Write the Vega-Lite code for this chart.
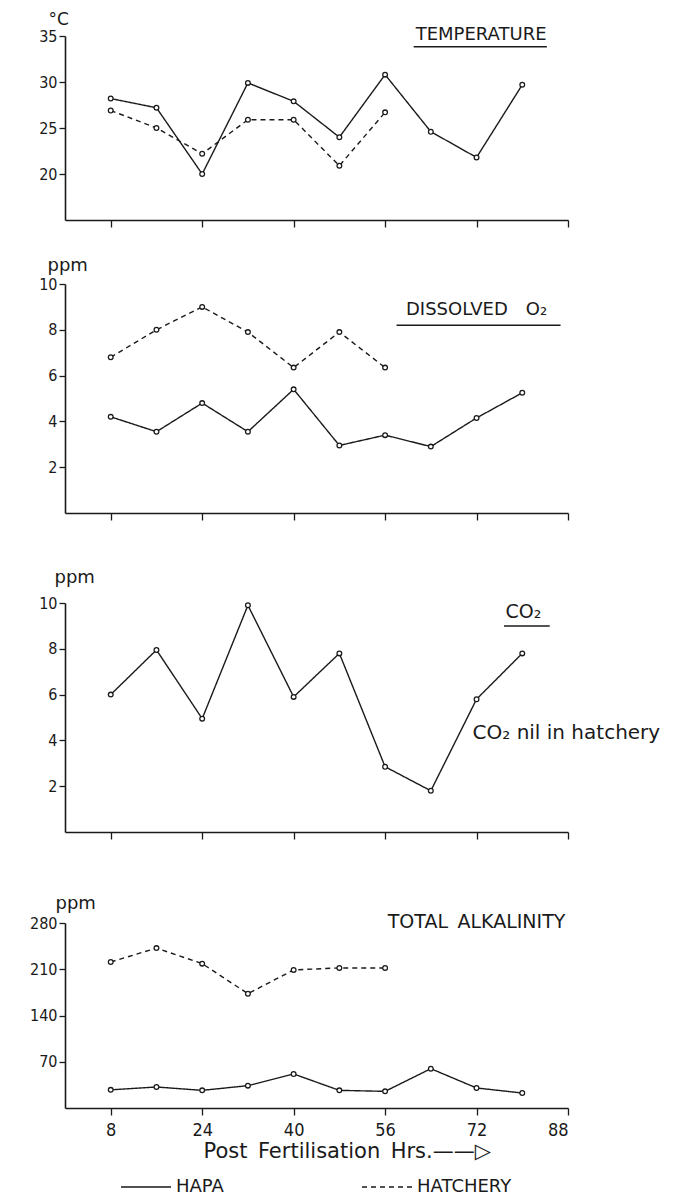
{
  "$schema": "https://vega.github.io/schema/vega-lite/v6.json",
  "background": "white",
  "padding": {"left": 25, "top": 10, "right": 2, "bottom": 2},
  "spacing": 19,
  "config": {
    "view": {"stroke": null},
    "font": "DejaVu Sans",
    "axis": {
      "grid": false,
      "domainColor": "#1a1a1a",
      "domainWidth": 1.6,
      "tickColor": "#1a1a1a",
      "tickWidth": 1.3,
      "labelColor": "#1a1a1a",
      "titleColor": "#1a1a1a",
      "labelFont": "DejaVu Sans Condensed, DejaVu Sans",
      "titleFont": "DejaVu Sans",
      "titleFontWeight": "normal"
    },
    "axisY": {
      "tickSize": 6,
      "labelPadding": 2,
      "labelFontSize": 16,
      "titleAngle": 0,
      "titleAlign": "left",
      "titleBaseline": "middle",
      "titleFontSize": 18,
      "minExtent": 40
    },
    "axisX": {"tickSize": 7},
    "legend": {
      "orient": "none", "legendX": 55, "legendY": 1125, "direction": "horizontal",
      "symbolType": "stroke", "symbolSize": 2500,
      "symbolStrokeWidth": 1.4, "symbolStrokeColor": "#1a1a1a",
      "labelFontSize": 18, "labelFont": "DejaVu Sans",
      "labelColor": "#1a1a1a", "labelOffset": 4, "columnPadding": 135
    }
  },
  "datasets": {
    "obs": [
      {"panel": "temp", "series": "HAPA", "hrs": 8, "value": 28.2},
      {"panel": "temp", "series": "HAPA", "hrs": 16, "value": 27.2},
      {"panel": "temp", "series": "HAPA", "hrs": 24, "value": 20.0},
      {"panel": "temp", "series": "HAPA", "hrs": 32, "value": 29.9},
      {"panel": "temp", "series": "HAPA", "hrs": 40, "value": 27.9},
      {"panel": "temp", "series": "HAPA", "hrs": 48, "value": 24.0},
      {"panel": "temp", "series": "HAPA", "hrs": 56, "value": 30.8},
      {"panel": "temp", "series": "HAPA", "hrs": 64, "value": 24.6},
      {"panel": "temp", "series": "HAPA", "hrs": 72, "value": 21.8},
      {"panel": "temp", "series": "HAPA", "hrs": 80, "value": 29.7},
      {"panel": "temp", "series": "HATCHERY", "hrs": 8, "value": 26.9},
      {"panel": "temp", "series": "HATCHERY", "hrs": 16, "value": 25.0},
      {"panel": "temp", "series": "HATCHERY", "hrs": 24, "value": 22.2},
      {"panel": "temp", "series": "HATCHERY", "hrs": 32, "value": 25.9},
      {"panel": "temp", "series": "HATCHERY", "hrs": 40, "value": 25.9},
      {"panel": "temp", "series": "HATCHERY", "hrs": 48, "value": 20.9},
      {"panel": "temp", "series": "HATCHERY", "hrs": 56, "value": 26.7},
      {"panel": "do", "series": "HAPA", "hrs": 8, "value": 4.2},
      {"panel": "do", "series": "HAPA", "hrs": 16, "value": 3.55},
      {"panel": "do", "series": "HAPA", "hrs": 24, "value": 4.8},
      {"panel": "do", "series": "HAPA", "hrs": 32, "value": 3.55},
      {"panel": "do", "series": "HAPA", "hrs": 40, "value": 5.4},
      {"panel": "do", "series": "HAPA", "hrs": 48, "value": 2.95},
      {"panel": "do", "series": "HAPA", "hrs": 56, "value": 3.4},
      {"panel": "do", "series": "HAPA", "hrs": 64, "value": 2.9},
      {"panel": "do", "series": "HAPA", "hrs": 72, "value": 4.15},
      {"panel": "do", "series": "HAPA", "hrs": 80, "value": 5.25},
      {"panel": "do", "series": "HATCHERY", "hrs": 8, "value": 6.8},
      {"panel": "do", "series": "HATCHERY", "hrs": 16, "value": 8.0},
      {"panel": "do", "series": "HATCHERY", "hrs": 24, "value": 9.0},
      {"panel": "do", "series": "HATCHERY", "hrs": 32, "value": 7.9},
      {"panel": "do", "series": "HATCHERY", "hrs": 40, "value": 6.35},
      {"panel": "do", "series": "HATCHERY", "hrs": 48, "value": 7.9},
      {"panel": "do", "series": "HATCHERY", "hrs": 56, "value": 6.35},
      {"panel": "co2", "series": "HAPA", "hrs": 8, "value": 6.0},
      {"panel": "co2", "series": "HAPA", "hrs": 16, "value": 7.95},
      {"panel": "co2", "series": "HAPA", "hrs": 24, "value": 4.95},
      {"panel": "co2", "series": "HAPA", "hrs": 32, "value": 9.9},
      {"panel": "co2", "series": "HAPA", "hrs": 40, "value": 5.9},
      {"panel": "co2", "series": "HAPA", "hrs": 48, "value": 7.8},
      {"panel": "co2", "series": "HAPA", "hrs": 56, "value": 2.85},
      {"panel": "co2", "series": "HAPA", "hrs": 64, "value": 1.8},
      {"panel": "co2", "series": "HAPA", "hrs": 72, "value": 5.8},
      {"panel": "co2", "series": "HAPA", "hrs": 80, "value": 7.8},
      {"panel": "alk", "series": "HAPA", "hrs": 8, "value": 27.5},
      {"panel": "alk", "series": "HAPA", "hrs": 16, "value": 31.8},
      {"panel": "alk", "series": "HAPA", "hrs": 24, "value": 26.7},
      {"panel": "alk", "series": "HAPA", "hrs": 32, "value": 33.8},
      {"panel": "alk", "series": "HAPA", "hrs": 40, "value": 51.5},
      {"panel": "alk", "series": "HAPA", "hrs": 48, "value": 26.7},
      {"panel": "alk", "series": "HAPA", "hrs": 56, "value": 25.2},
      {"panel": "alk", "series": "HAPA", "hrs": 64, "value": 59.5},
      {"panel": "alk", "series": "HAPA", "hrs": 72, "value": 30.3},
      {"panel": "alk", "series": "HAPA", "hrs": 80, "value": 22.7},
      {"panel": "alk", "series": "HATCHERY", "hrs": 8, "value": 221},
      {"panel": "alk", "series": "HATCHERY", "hrs": 16, "value": 242},
      {"panel": "alk", "series": "HATCHERY", "hrs": 24, "value": 218.5},
      {"panel": "alk", "series": "HATCHERY", "hrs": 32, "value": 173},
      {"panel": "alk", "series": "HATCHERY", "hrs": 40, "value": 209},
      {"panel": "alk", "series": "HATCHERY", "hrs": 48, "value": 212},
      {"panel": "alk", "series": "HATCHERY", "hrs": 56, "value": 212}
    ]
  },
  "vconcat": [
    {
      "width": 503,
      "height": 184,
      "layer": [
        {
          "data": {"name": "obs"},
          "transform": [{"filter": "datum.panel === 'temp'"}],
          "mark": {"type": "line", "color": "#1a1a1a", "strokeWidth": 1.4},
          "encoding": {
            "x": {"field": "hrs", "type": "quantitative", "scale": {"domain": [0, 88], "nice": false},
                  "axis": {"values": [8, 24, 40, 56, 72, 88], "labels": false, "title": null, "minExtent": 17}},
            "y": {"field": "value", "type": "quantitative", "scale": {"domain": [15, 35], "nice": false, "zero": false},
                  "axis": {"values": [20, 25, 30, 35], "title": "°C", "titleX": -17, "titleY": -17, "titleFontSize": 17}},
            "strokeDash": {"field": "series", "type": "nominal", "title": null,
                           "scale": {"domain": ["HAPA", "HATCHERY"], "range": [[1, 0], [5, 4]]}}
          }
        },
        {
          "data": {"name": "obs"},
          "transform": [{"filter": "datum.panel === 'temp'"}],
          "mark": {"type": "point", "shape": "circle", "filled": true, "fill": "white", "stroke": "#1a1a1a", "strokeWidth": 1.3, "size": 22, "opacity": 1},
          "encoding": {
            "x": {"field": "hrs", "type": "quantitative"},
            "y": {"field": "value", "type": "quantitative"}
          }
        },
        {
          "data": {"values": [{}]},
          "mark": {"type": "text", "fontSize": 18, "align": "center", "baseline": "middle", "color": "#1a1a1a", "font": "DejaVu Sans"},
          "encoding": {
            "x": {"datum": 72.8, "type": "quantitative"},
            "y": {"datum": 35.1, "type": "quantitative"},
            "text": {"value": "TEMPERATURE"}
          }
        },
        {
          "data": {"values": [{}]},
          "mark": {"type": "rule", "color": "#1a1a1a", "strokeWidth": 1.5},
          "encoding": {
            "x": {"datum": 61, "type": "quantitative"},
            "x2": {"datum": 84.3},
            "y": {"datum": 33.84, "type": "quantitative"}
          }
        }
      ]
    },
    {
      "width": 503,
      "height": 229,
      "layer": [
        {
          "data": {"name": "obs"},
          "transform": [{"filter": "datum.panel === 'do'"}],
          "mark": {"type": "line", "color": "#1a1a1a", "strokeWidth": 1.4},
          "encoding": {
            "x": {"field": "hrs", "type": "quantitative", "scale": {"domain": [0, 88], "nice": false},
                  "axis": {"values": [8, 24, 40, 56, 72, 88], "labels": false, "title": null, "minExtent": 36}},
            "y": {"field": "value", "type": "quantitative", "scale": {"domain": [0, 10], "nice": false},
                  "axis": {"values": [2, 4, 6, 8, 10], "title": "ppm", "titleX": -18, "titleY": -19}},
            "strokeDash": {"field": "series", "type": "nominal", "title": null,
                           "scale": {"domain": ["HAPA", "HATCHERY"], "range": [[1, 0], [5, 4]]}}
          }
        },
        {
          "data": {"name": "obs"},
          "transform": [{"filter": "datum.panel === 'do'"}],
          "mark": {"type": "point", "shape": "circle", "filled": true, "fill": "white", "stroke": "#1a1a1a", "strokeWidth": 1.3, "size": 22, "opacity": 1},
          "encoding": {
            "x": {"field": "hrs", "type": "quantitative"},
            "y": {"field": "value", "type": "quantitative"}
          }
        },
        {
          "data": {"values": [{}]},
          "mark": {"type": "text", "fontSize": 18, "align": "center", "baseline": "middle", "color": "#1a1a1a", "font": "DejaVu Sans"},
          "encoding": {
            "x": {"datum": 72, "type": "quantitative"},
            "y": {"datum": 8.86, "type": "quantitative"},
            "text": {"value": "DISSOLVED\u2002\u2002O₂"}
          }
        },
        {
          "data": {"values": [{}]},
          "mark": {"type": "rule", "color": "#1a1a1a", "strokeWidth": 1.5},
          "encoding": {
            "x": {"datum": 58, "type": "quantitative"},
            "x2": {"datum": 86.7},
            "y": {"datum": 8.2, "type": "quantitative"}
          }
        }
      ]
    },
    {
      "width": 503,
      "height": 229,
      "layer": [
        {
          "data": {"name": "obs"},
          "transform": [{"filter": "datum.panel === 'co2'"}],
          "mark": {"type": "line", "color": "#1a1a1a", "strokeWidth": 1.4},
          "encoding": {
            "x": {"field": "hrs", "type": "quantitative", "scale": {"domain": [0, 88], "nice": false},
                  "axis": {"values": [8, 24, 40, 56, 72, 88], "labels": false, "title": null, "minExtent": 43}},
            "y": {"field": "value", "type": "quantitative", "scale": {"domain": [0, 10], "nice": false},
                  "axis": {"values": [2, 4, 6, 8, 10], "title": "ppm", "titleX": -11, "titleY": -26}},
            "strokeDash": {"field": "series", "type": "nominal", "title": null,
                           "scale": {"domain": ["HAPA", "HATCHERY"], "range": [[1, 0], [5, 4]]}}
          }
        },
        {
          "data": {"name": "obs"},
          "transform": [{"filter": "datum.panel === 'co2'"}],
          "mark": {"type": "point", "shape": "circle", "filled": true, "fill": "white", "stroke": "#1a1a1a", "strokeWidth": 1.3, "size": 22, "opacity": 1},
          "encoding": {
            "x": {"field": "hrs", "type": "quantitative"},
            "y": {"field": "value", "type": "quantitative"}
          }
        },
        {
          "data": {"values": [{}]},
          "mark": {"type": "text", "fontSize": 19, "align": "center", "baseline": "middle", "color": "#1a1a1a", "font": "DejaVu Sans"},
          "encoding": {
            "x": {"datum": 80.2, "type": "quantitative"},
            "y": {"datum": 9.62, "type": "quantitative"},
            "text": {"value": "CO₂"}
          }
        },
        {
          "data": {"values": [{}]},
          "mark": {"type": "rule", "color": "#1a1a1a", "strokeWidth": 1.5},
          "encoding": {
            "x": {"datum": 76.8, "type": "quantitative"},
            "x2": {"datum": 84.8},
            "y": {"datum": 9.0, "type": "quantitative"}
          }
        },
        {
          "data": {"values": [{}]},
          "mark": {"type": "text", "fontSize": 20, "align": "left", "baseline": "middle", "color": "#1a1a1a", "font": "DejaVu Sans"},
          "encoding": {
            "x": {"datum": 71.3, "type": "quantitative"},
            "y": {"datum": 4.34, "type": "quantitative"},
            "text": {"value": "CO₂ nil in hatchery"}
          }
        }
      ]
    },
    {
      "width": 503,
      "height": 185,
      "layer": [
        {
          "data": {"name": "obs"},
          "transform": [{"filter": "datum.panel === 'alk'"}],
          "mark": {"type": "line", "color": "#1a1a1a", "strokeWidth": 1.4},
          "encoding": {
            "x": {"field": "hrs", "type": "quantitative", "scale": {"domain": [0, 88], "nice": false},
                  "axis": {"values": [8, 24, 40, 56, 72, 88], "labelFontSize": 18, "labelPadding": 6,
                           "title": "Post\u2002Fertilisation\u2002Hrs.——▷", "titleFontSize": 21, "titleX": 138, "titleY": 43,
                           "titleAlign": "left", "titleBaseline": "middle", "titleAnchor": "start"}},
            "y": {"field": "value", "type": "quantitative", "scale": {"domain": [0, 280], "nice": false},
                  "axis": {"values": [70, 140, 210, 280], "title": "ppm", "titleX": -10, "titleY": -20}},
            "strokeDash": {"field": "series", "type": "nominal", "title": null,
                           "scale": {"domain": ["HAPA", "HATCHERY"], "range": [[1, 0], [5, 4]]}}
          }
        },
        {
          "data": {"name": "obs"},
          "transform": [{"filter": "datum.panel === 'alk'"}],
          "mark": {"type": "point", "shape": "circle", "filled": true, "fill": "white", "stroke": "#1a1a1a", "strokeWidth": 1.3, "size": 22, "opacity": 1},
          "encoding": {
            "x": {"field": "hrs", "type": "quantitative"},
            "y": {"field": "value", "type": "quantitative"}
          }
        },
        {
          "data": {"values": [{}]},
          "mark": {"type": "text", "fontSize": 19, "align": "center", "baseline": "middle", "color": "#1a1a1a", "font": "DejaVu Sans"},
          "encoding": {
            "x": {"datum": 72, "type": "quantitative"},
            "y": {"datum": 282, "type": "quantitative"},
            "text": {"value": "TOTAL\u2002ALKALINITY"}
          }
        }
      ]
    }
  ]
}
